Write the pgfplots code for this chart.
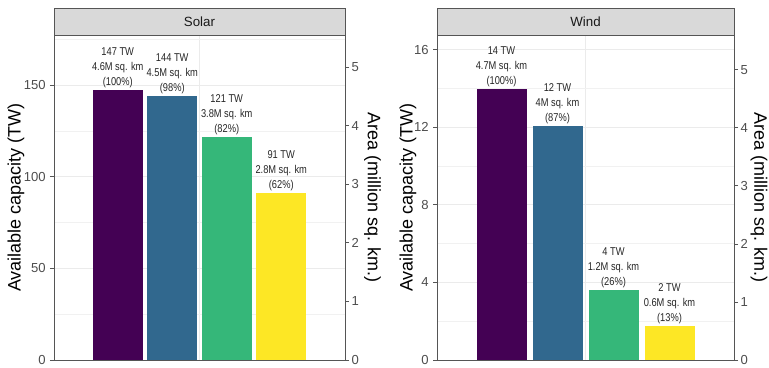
\documentclass[border=0pt]{standalone}
\usepackage{fontspec}
\setmainfont{Liberation Sans}
\newfontfamily\narrowfont[FakeStretch=0.82]{Liberation Sans}
\usepackage{pgfplots}
\pgfplotsset{compat=1.18}
\definecolor{vir1}{HTML}{440154}
\definecolor{vir2}{HTML}{31688E}
\definecolor{vir3}{HTML}{35B779}
\definecolor{vir4}{HTML}{FDE725}
\definecolor{axgray}{HTML}{555555}
\definecolor{tickgray}{HTML}{4D4D4D}
\definecolor{gridc}{HTML}{EBEBEB}
\definecolor{stripfill}{HTML}{D9D9D9}
\pgfplotsset{
  panel/.style={
    scale only axis, height=243.75pt, anchor=south west,
    axis line style={axgray, line width=0.6pt},
    tick style={axgray, line width=0.6pt},
    major tick length=3pt, minor tick length=0pt, tick align=outside,
    ymin=0, ytick pos=left, xtick pos=bottom,
    xtick style={draw=none}, xticklabels={},
    ymajorgrids, yminorgrids, xmajorgrids,
    major grid style={gridc, line width=0.7pt},
    minor grid style={gridc!70!white, line width=0.45pt},
    /pgf/number format/assume math mode=true,
    yticklabel style={font=\fontsize{9.8}{10}\selectfont, text=tickgray, xshift=0.3pt},
    ylabel style={font=\fontsize{13.5}{15}\selectfont, anchor=center},
    clip=false,
    every node near coord/.append style={font=\narrowfont\fontsize{8.5}{11.2}\selectfont, align=center, inner sep=1.5pt, text=black!85},
  },
  secax/.style={
    scale only axis, height=243.75pt, anchor=south west,
    xmin=0, xmax=1, ymin=0, ytick={0,1,2,3,4,5},
    axis x line=none, axis y line=right,
    y axis line style={-, axgray, line width=0.6pt},
    tick style={axgray, line width=0.6pt},
    major tick length=3pt, tick align=outside,
    /pgf/number format/assume math mode=true,
    yticklabel style={font=\fontsize{9.8}{10}\selectfont, text=tickgray, xshift=-1.5pt},
    ylabel style={font=\fontsize{13.5}{15}\selectfont, anchor=center, rotate=180},
  },
  bar/.style={ybar, bar width=50, bar shift=0pt, draw=none, fill=#1, nodes near coords align={above}},
}
\begin{document}
\begin{tikzpicture}
\useasboundingbox (0,0) rectangle (576.75pt,276pt);
% ---------- Solar ----------
\begin{axis}[panel, at={(40.5pt,6pt)}, width=218.25pt,
  xmin=54, xmax=345, ymax=177.3,
  ytick={0,50,100,150}, minor ytick={25,75,125,175}, xtick={199.5},
  ylabel={Available capacity (TW)},
  ylabel style={at={(axis description cs:-0.1306,0.5)}}]
\addplot[bar=vir1, nodes near coords={147 TW\\4.6M sq. km\\(100\%)}] coordinates {(117.75,147.4)};
\addplot[bar=vir2, nodes near coords={144 TW\\4.5M sq. km\\(98\%)}] coordinates {(172.25,143.8)};
\addplot[bar=vir3, nodes near coords={121 TW\\3.8M sq. km\\(82\%)}] coordinates {(226.75,121.5)};
\addplot[bar=vir4, nodes near coords={91 TW\\2.8M sq. km\\(62\%)}] coordinates {(281.25,91.0)};
\draw[axgray, line width=0.6pt, fill=stripfill] (rel axis cs:0,1) rectangle ([yshift=20.25pt]rel axis cs:1,1);
\node[font=\fontsize{10}{10}\selectfont, text=black!90] at ([yshift=10.1pt]rel axis cs:0.5,1) {Solar};
\end{axis}
\begin{axis}[secax, at={(40.5pt,6pt)}, width=218.25pt, ymax=5.55,
  ylabel={Area (million sq. km.)},
  ylabel style={at={(axis description cs:1.0945,0.5)}}]
\end{axis}
% ---------- Wind ----------
\begin{axis}[panel, at={(327.75pt,6pt)}, width=222.75pt,
  xmin=437, xmax=734, ymax=16.75,
  ytick={0,4,8,12,16}, minor ytick={2,6,10,14}, xtick={585.5},
  ylabel={Available capacity (TW)},
  ylabel style={at={(axis description cs:-0.0976,0.5)}}]
\addplot[bar=vir1, nodes near coords={14 TW\\4.7M sq. km\\(100\%)}] coordinates {(501.5,13.96)};
\addplot[bar=vir2, nodes near coords={12 TW\\4M sq. km\\(87\%)}] coordinates {(557.5,12.07)};
\addplot[bar=vir3, nodes near coords={4 TW\\1.2M sq. km\\(26\%)}] coordinates {(613.5,3.6)};
\addplot[bar=vir4, nodes near coords={2 TW\\0.6M sq. km\\(13\%)}] coordinates {(669.5,1.75)};
\draw[axgray, line width=0.6pt, fill=stripfill] (rel axis cs:0,1) rectangle ([yshift=20.25pt]rel axis cs:1,1);
\node[font=\fontsize{10}{10}\selectfont, text=black!90] at ([yshift=10.1pt]rel axis cs:0.5,1) {Wind};
\end{axis}
\begin{axis}[secax, at={(327.75pt,6pt)}, width=222.75pt, ymax=5.6,
  ylabel={Area (million sq. km.)},
  ylabel style={at={(axis description cs:1.0842,0.5)}}]
\end{axis}
\end{tikzpicture}
\end{document}
